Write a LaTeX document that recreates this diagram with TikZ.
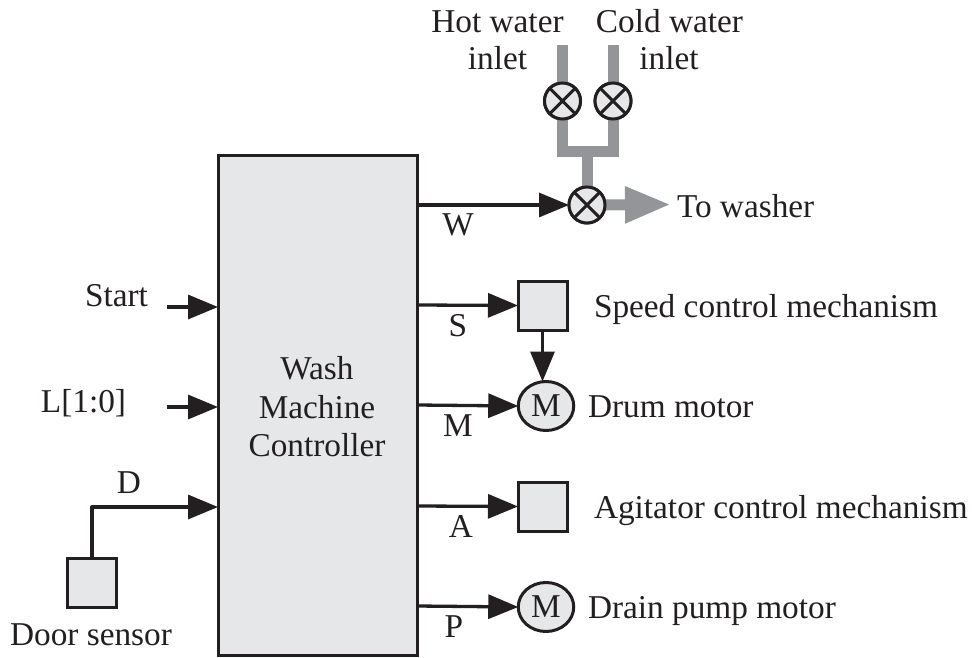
\documentclass[tikz,border=0pt]{standalone}
\usepackage{fontspec}
\setmainfont{Liberation Serif}
\usetikzlibrary{arrows.meta,shapes.geometric}
\definecolor{fillgray}{HTML}{E6E7E8}
\definecolor{pipegray}{HTML}{939598}
\definecolor{inkblack}{HTML}{231F20}
\tikzset{
  x=1pt,y=-1pt,
  every node/.style={inner sep=0pt,outer sep=0pt,text=inkblack},
  lbl/.style={font=\fontsize{33.3}{38.5}\selectfont,align=center},
  sq/.style={draw=inkblack,fill=fillgray,line width=3pt,minimum size=49pt,shape=rectangle},
  motor/.style={draw=inkblack,fill=fillgray,line width=3pt,ellipse,minimum width=55.5pt,minimum height=49pt,font=\fontsize{33.3}{38.5}\selectfont},
  valve/.style={draw=inkblack,fill=fillgray,line width=3pt,circle,minimum size=36pt,
    path picture={\draw[inkblack,line width=3pt] (path picture bounding box.south west)--(path picture bounding box.north east)
      (path picture bounding box.north west)--(path picture bounding box.south east);}},
  sig/.style={draw=inkblack,line width=3.3pt,-{Triangle[length=30pt,width=24pt,inkblack]}},
  pipe/.style={draw=pipegray,line width=11pt},
}
\begin{document}
\begin{tikzpicture}
\useasboundingbox (0,0) rectangle (972,658);
% coordinates
\coordinate (hottop) at (562.5,45);
\coordinate (coldtop) at (613,45);
\coordinate (tee) at (587,152);
\coordinate (startin) at (167,307);
\coordinate (lin) at (167,407);
\coordinate (ctlS) at (417,305);
\coordinate (ctlM) at (417,405);
\coordinate (ctlA) at (417,506);
\coordinate (ctlP) at (417,606);
\coordinate (ctlW) at (417,205);
\coordinate (ctlStart) at (218,307);
\coordinate (ctlL) at (218,407);
\coordinate (ctlD) at (218,507);
\coordinate (tipw) at (671,204.5);
% valves
\node[valve] (hot) at (562.5,101) {};
\node[valve] (cold) at (613,101) {};
\node[valve] (mix) at (587,205) {};
\draw[pipe] (hottop) -- (hot.north);
\draw[pipe] (coldtop) -- (cold.north);
\draw[pipe,line join=miter] (hot.south) |- (tee) -| (cold.south);
\draw[pipe] (tee) -- (mix.north);
\draw[pipegray,line width=11pt,-{Triangle[length=46pt,width=34pt,pipegray]}] (mix.east) -- (tipw);
\node[valve] at (hot) {};
\node[valve] at (cold) {};
\node[valve] at (mix) {};
% controller
\node[draw=inkblack,fill=fillgray,line width=3pt,minimum width=199.5pt,minimum height=500pt,anchor=center] (ctl) at (317.75,405.5) {};
\node[lbl] (ctltext) at (317,407) {Wash\\Machine\\Controller};
% boxes
\node[sq] (speed) at (542.5,305.5) {};
\node[sq] (agit) at (542.5,506.5) {};
\node[sq] (door) at (92,582.5) {};
\node[motor] (drum) at (546,406) {M};
\node[motor] (drain) at (546,607) {M};
% connectors
\draw[sig] (ctlW) -- (mix.west);
\draw[sig] (ctlS) -- (speed.west);
\draw[sig] (ctlM) -- (drum.west);
\draw[sig] (ctlA) -- (agit.west);
\draw[sig] (ctlP) -- (drain.west);
\draw[sig] (speed.south) -- (speed.south |- drum.north);
\draw[sig] (startin) -- (ctlStart);
\draw[sig] (lin) -- (ctlL);
\draw[sig,line join=round] (door.north) |- (ctlD);
% labels
\node[lbl,anchor=base] (lhot) at (497.5,33) {Hot water};
\node[lbl,anchor=base] (lhot2) at (497.5,69.5) {inlet};
\node[lbl,anchor=base] (lcold) at (669.5,33) {Cold water};
\node[lbl,anchor=base] (lcold2) at (669,69.5) {inlet};
\node[lbl,anchor=base west] (lwash) at (677,217) {To washer};
\node[lbl,anchor=base] (lw) at (458,235.5) {W};
\node[lbl,anchor=base] (ls) at (458,336) {S};
\node[lbl,anchor=base] (lm) at (458,436) {M};
\node[lbl,anchor=base] (la) at (461,537) {A};
\node[lbl,anchor=base] (lp) at (454,637) {P};
\node[lbl,anchor=base west] (lspeed) at (594,317) {Speed control mechanism};
\node[lbl,anchor=base west] (ldrum) at (588,417) {Drum motor};
\node[lbl,anchor=base west] (lagit) at (594,518) {Agitator control mechanism};
\node[lbl,anchor=base west] (ldrain) at (588,618) {Drain pump motor};
\node[lbl,anchor=base] (lstart) at (116.5,306) {Start};
\node[lbl,anchor=base] (ll) at (83.5,412) {L[1:0]};
\node[lbl,anchor=base] (ld) at (129,493) {D};
\node[lbl,anchor=base] (ldoor) at (91,645) {Door sensor};
\end{tikzpicture}
\end{document}
